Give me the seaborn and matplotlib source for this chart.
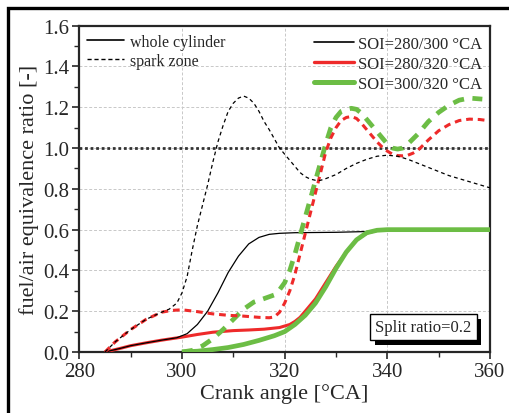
import numpy as np
import pandas as pd
import matplotlib
matplotlib.use("Agg")
import matplotlib.pyplot as plt
import matplotlib.patheffects as pe
from matplotlib.lines import Line2D
from matplotlib.patches import Rectangle
from matplotlib.ticker import MultipleLocator
import seaborn as sns

# ---------------- data ----------------
# SOI=280/300 - whole cylinder (black solid)
x_k_whole = [285, 288, 290, 293, 296, 299, 301, 303, 305, 307, 309, 311, 313, 315, 317, 319, 322, 330, 338, 340, 360]
y_k_whole = [0, 0.018, 0.031, 0.045, 0.058, 0.07, 0.09, 0.135, 0.2, 0.29, 0.39, 0.47, 0.53, 0.562, 0.577, 0.582, 0.585, 0.587, 0.592, 0.596, 0.6]
# SOI=280/300 - spark zone (black dashed)
x_k_spark = [285, 287, 290, 293, 296, 297.5, 299, 300, 301, 302, 303, 304, 305, 306, 307, 308, 309, 310, 311, 312, 313, 314,
             315, 316, 317, 318, 319, 320, 321, 322, 323, 324, 325, 326, 327, 328, 330, 332, 334, 336, 338, 340, 342,
             344, 346, 348, 350, 352, 354, 356, 358, 360]
y_k_spark = [0, 0.05, 0.11, 0.16, 0.195, 0.21, 0.24, 0.29, 0.37, 0.5, 0.62, 0.72, 0.82, 0.93, 1.03, 1.11, 1.18, 1.22, 1.245,
             1.255, 1.245, 1.22, 1.18, 1.13, 1.09, 1.045, 1.0, 0.97, 0.94, 0.91, 0.88, 0.86, 0.848, 0.842, 0.842, 0.85,
             0.87, 0.9, 0.925, 0.945, 0.96, 0.965, 0.96, 0.945, 0.925, 0.905, 0.885, 0.865, 0.85, 0.835, 0.82, 0.805]
# SOI=280/320 - whole cylinder (red solid)
x_r_whole = [285, 288, 290, 293, 296, 300, 303, 306, 310, 313, 316, 319, 321, 322, 323, 324, 326, 328, 330, 332, 334, 336, 338, 340, 360]
y_r_whole = [0, 0.018, 0.031, 0.045, 0.058, 0.073, 0.086, 0.097, 0.105, 0.108, 0.112, 0.12, 0.135, 0.15, 0.17, 0.2, 0.26,
             0.34, 0.42, 0.49, 0.55, 0.583, 0.596, 0.6, 0.6]
# SOI=280/320 - spark zone (red dashed)
x_r_spark = [285, 287, 290, 293, 296, 298, 300, 303, 306, 309, 312, 315, 317, 318, 319, 320, 321, 322, 323, 324, 325, 326,
             327, 328, 329, 330, 331, 332, 333, 334, 335, 336, 337, 338, 339, 340, 341, 342, 343, 344, 345, 346, 348,
             350, 352, 354, 356, 358, 359.5]
y_r_spark = [0, 0.05, 0.11, 0.16, 0.195, 0.204, 0.207, 0.198, 0.187, 0.18, 0.176, 0.17, 0.168, 0.172, 0.195, 0.24, 0.3,
             0.38, 0.48, 0.58, 0.68, 0.78, 0.88, 0.98, 1.05, 1.1, 1.135, 1.15, 1.155, 1.145, 1.12, 1.09, 1.06, 1.03,
             1.005, 0.985, 0.97, 0.963, 0.962, 0.965, 0.975, 0.99, 1.04, 1.085, 1.115, 1.135, 1.142, 1.14, 1.135]
# SOI=300/320 - whole cylinder (green solid)
x_g_whole = [300, 303, 306, 309, 312, 315, 318, 320, 322, 324, 326, 328, 330, 332, 334, 336, 338, 340, 360]
y_g_whole = [0, 0.004, 0.012, 0.022, 0.037, 0.057, 0.08, 0.1, 0.135, 0.18, 0.24, 0.32, 0.41, 0.49, 0.55, 0.585, 0.597, 0.6, 0.6]
# SOI=300/320 - spark zone (green dashed)
x_g_spark = [300, 302, 304, 306, 308, 310, 312, 314, 316, 318, 319, 320, 321, 322, 323, 324, 325, 326, 327, 328, 329, 330,
             331, 332, 333, 334, 335, 336, 337, 338, 339, 340, 341, 342, 343, 344, 345, 346, 347, 348, 350, 352, 354,
             356, 358.5]
y_g_spark = [0, 0.008, 0.03, 0.065, 0.11, 0.16, 0.21, 0.245, 0.262, 0.28, 0.305, 0.34, 0.4, 0.48, 0.57, 0.66, 0.75, 0.84,
             0.93, 1.02, 1.1, 1.15, 1.18, 1.19, 1.195, 1.19, 1.17, 1.14, 1.11, 1.08, 1.05, 1.02, 1.0, 0.995, 1.0, 1.02,
             1.045, 1.07, 1.1, 1.13, 1.175, 1.21, 1.235, 1.245, 1.24]

legend_cases = ["SOI=280/300 °CA", "SOI=280/320 °CA", "SOI=300/320 °CA"]
legend_zones = ["whole cylinder", "spark zone"]
split_text = "Split ratio=0.2"

# ---------------- style ----------------
sns.set_style("ticks")
plt.rcParams["font.family"] = ["Liberation Serif", "DejaVu Serif"]
plt.rcParams["mathtext.fontset"] = "stix"

RED = "#ee2a2a"
GREEN = "#6cbd45"

fig = plt.figure(figsize=(5.09, 4.14), dpi=100)
ax = fig.add_axes([0.1558, 0.1473, 0.8069, 0.7882])

# outer frame of the picture
fig.patches.append(Rectangle((7.5 / 509, -0.05), 1.2, 1 - 9 / 414 + 0.05, transform=fig.transFigure,
                             fill=False, edgecolor="black", linewidth=2.4, zorder=0))

ax.axhline(1.0, color="#333333", lw=2.0, ls=(0, (1, 1)), zorder=3)

def draw(x, y, color, lw, ls, z):
    df = pd.DataFrame({"x": x, "y": y})
    sns.lineplot(data=df, x="x", y="y", ax=ax, color=color, lw=lw, ls=ls, zorder=z,
                 sort=False, estimator=None)
    ax.lines[-1].set_solid_capstyle("butt")
    ax.lines[-1].set_dash_capstyle("butt")

draw(x_r_whole, y_r_whole, RED, 2.2, "-", 4)
draw(x_k_whole, y_k_whole, "black", 0.9, "-", 5)
draw(x_g_whole, y_g_whole, GREEN, 3.4, "-", 6)
draw(x_r_spark, y_r_spark, RED, 2.2, (0, (2.2, 1.6)), 7)
draw(x_k_spark, y_k_spark, "black", 0.9, (0, (3, 2.5)), 8)
draw(x_g_spark, y_g_spark, GREEN, 3.4, (0, (2.4, 1.8)), 6.5)

ax.set_xlim(280, 360)
ax.set_ylim(0, 1.6)
ax.xaxis.set_major_locator(MultipleLocator(20))
ax.xaxis.set_minor_locator(MultipleLocator(10))
ax.yaxis.set_major_locator(MultipleLocator(0.2))
ax.yaxis.set_minor_locator(MultipleLocator(0.1))
ax.yaxis.set_major_formatter(matplotlib.ticker.FormatStrFormatter("%.1f"))
ax.grid(True, which="major", color="#c8c8c8", ls=(0, (3, 2)), lw=0.7, zorder=0)
ax.tick_params(which="major", length=5, width=1.2, labelsize=15, direction="out", pad=2)
ax.tick_params(which="minor", length=3.5, width=1.0, direction="out")
for s in ax.spines.values():
    s.set_linewidth(1.6)
    s.set_visible(True)

ax.set_xlabel("Crank angle [°CA]", fontsize=16, labelpad=2)
ax.set_ylabel("fuel/air equivalence ratio [-]", fontsize=16, labelpad=3)

h1 = [Line2D([], [], color="black", lw=1.2, ls="-"),
      Line2D([], [], color="black", lw=1.0, ls=(0, (3, 2)))]
leg1 = ax.legend(h1, legend_zones, loc="upper left", frameon=False, fontsize=11.5,
                 handlelength=2.3, handletextpad=0.4, labelspacing=0.2,
                 borderaxespad=0.1, bbox_to_anchor=(0.0, 1.0))
ax.add_artist(leg1)
h2 = [Line2D([], [], color="black", lw=1.2),
      Line2D([], [], color=RED, lw=2.4),
      Line2D([], [], color=GREEN, lw=3.6)]
ax.legend(h2, legend_cases, loc="upper right", frameon=False, fontsize=12,
          handlelength=2.4, handletextpad=0.25, labelspacing=0.25,
          borderaxespad=0.2, bbox_to_anchor=(1.005, 1.0))

t = ax.text(0.955, 0.077, split_text, transform=ax.transAxes, ha="right", va="center",
            fontsize=12, zorder=10,
            bbox=dict(boxstyle="square,pad=0.3", facecolor="white", edgecolor="black", lw=1.0))
t.get_bbox_patch().set_path_effects([pe.withSimplePatchShadow(offset=(3.5, -3.5), shadow_rgbFace="black", alpha=1.0)])

fig.savefig("out.png", dpi=100)
